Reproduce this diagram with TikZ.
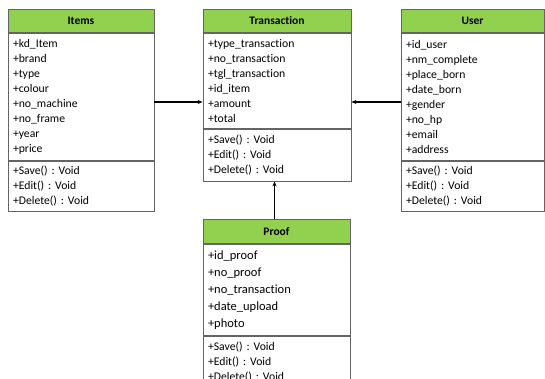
\documentclass[tikz,border=0pt]{standalone}
\usepackage{fontspec}
\setmainfont{Carlito}[Ligatures=NoCommon]
\usepackage{tikz}
\usetikzlibrary{positioning,shapes,arrows.meta}
\definecolor{headgreen}{RGB}{146,208,80}
\definecolor{boxline}{RGB}{100,100,100}
\frenchspacing

\begin{document}
\begin{tikzpicture}[x=1pt, y=1pt,
	head/.style={draw=boxline, line width=0.8pt, fill=headgreen, anchor=north, inner sep=0pt, font=\fontsize{11.5}{13}\selectfont\bfseries},
	body/.style={draw=boxline, line width=0.8pt, anchor=north, align=left, inner xsep=5pt, inner ysep=0pt, font=\fontsize{11.7}{15}\selectfont},
	bigbody/.style={body, font=\fontsize{12.5}{17}\selectfont},
	link/.style={-{Stealth[length=5pt, width=4pt]}, line width=1.2pt}]
				\useasboundingbox (0,0) rectangle (545,378);
				\clip (0,0) rectangle (545,378);
				% Items
				\node[head, minimum width=146, minimum height=23] (ItemsH) at (81, 369) {Items};
				\node[body, minimum width=146, text width=136, minimum height=127] (ItemsA) at (ItemsH.south) {+kd\_Item\\+brand\\+type\\+colour\\+no\_machine\\+no\_frame\\+year\\+price};
				\node[body, minimum width=146, text width=136, minimum height=50] (ItemsM) at (ItemsA.south) {+Save() : Void\\+Edit() : Void\\+Delete() : Void};
				% Transaction
				\node[head, minimum width=148, minimum height=23] (TransH) at (277, 369) {Transaction};
				\node[body, minimum width=148, text width=138, minimum height=95] (TransA) at (TransH.south) {+type\_transaction\\+no\_transaction\\+tgl\_transaction\\+id\_item\\+amount\\+total};
				\node[body, minimum width=148, text width=138, minimum height=52] (TransM) at (TransA.south) {+Save() : Void\\+Edit() : Void\\+Delete() : Void};
				% User
				\node[head, minimum width=143, minimum height=23] (UserH) at (472.5, 369) {User};
				\node[body, minimum width=143, text width=133, minimum height=127] (UserA) at (UserH.south) {+id\_user\\+nm\_complete\\+place\_born\\+date\_born\\+gender\\+no\_hp\\+email\\+address};
				\node[body, minimum width=143, text width=133, minimum height=50] (UserM) at (UserA.south) {+Save() : Void\\+Edit() : Void\\+Delete() : Void};
				% Proof
				\node[head, minimum width=147, minimum height=24] (ProofH) at (276.5, 159) {Proof};
				\node[bigbody, minimum width=147, text width=137, minimum height=91] (ProofA) at (ProofH.south) {+id\_proof\\+no\_proof\\+no\_transaction\\+date\_upload\\+photo};
				\node[body, minimum width=147, text width=137, minimum height=52] (ProofM) at (ProofA.south) {+Save() : Void\\+Edit() : Void\\+Delete() : Void};
				% links
				\coordinate (lvl) at (0, 276);
				\draw[link] (ItemsA.east |- lvl) -- (TransA.west |- lvl);
				\draw[link] (UserA.west |- lvl) -- (TransA.east |- lvl);
				\draw[link] ([xshift=-2]ProofH.north) -- ([xshift=-2]ProofH.north |- TransM.south);
			\end{tikzpicture}
\end{document}
